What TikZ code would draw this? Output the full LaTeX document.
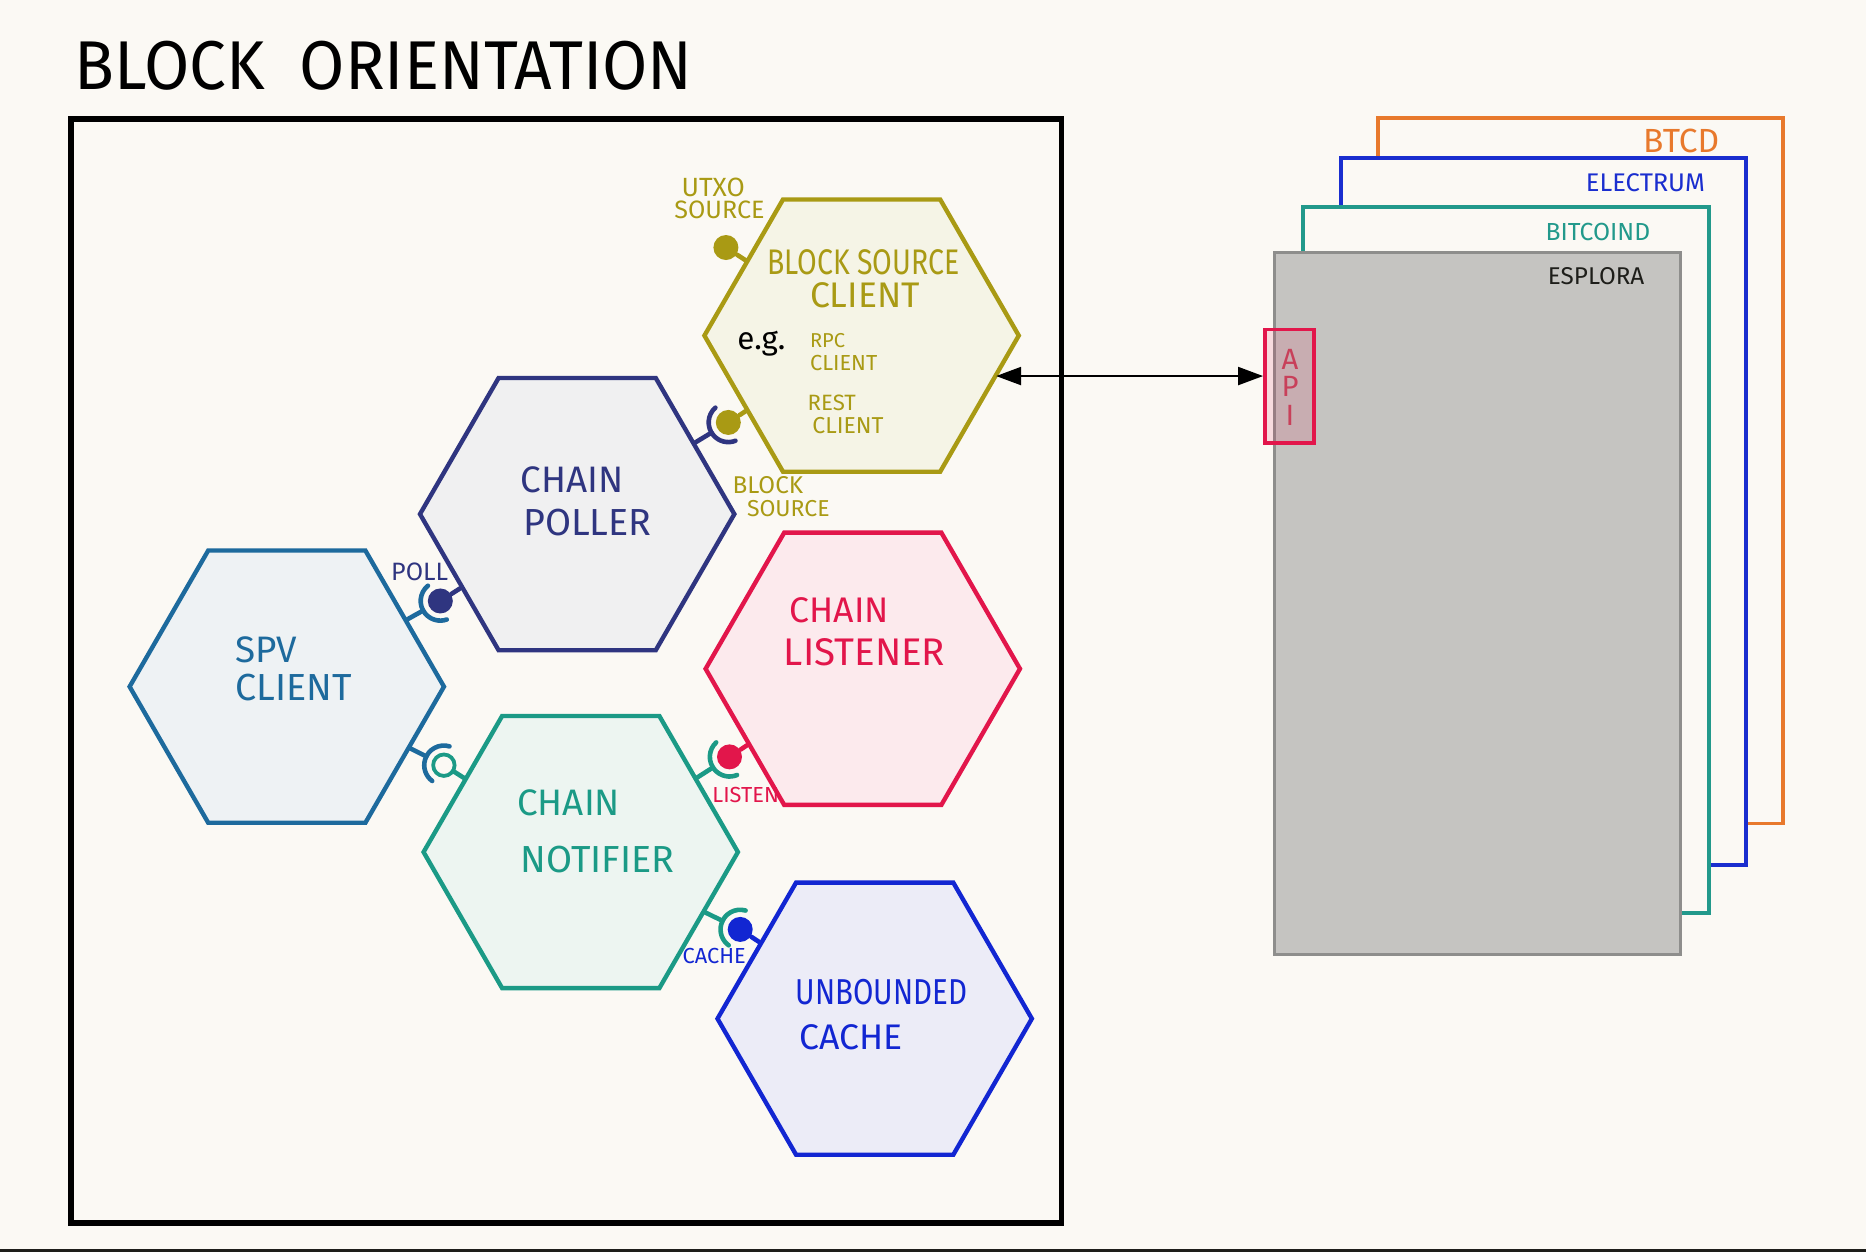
\documentclass[tikz,border=0pt]{standalone}
\usepackage{fontspec}
\setmainfont{Fira Sans}
\usetikzlibrary{shapes.geometric,arrows.meta,calc}
\definecolor{cBg}{HTML}{FBF9F4}
\definecolor{cOlive}{HTML}{A99A14}
\definecolor{fOlive}{HTML}{F5F4E6}
\definecolor{cNavy}{HTML}{2F3580}
\definecolor{fNavy}{HTML}{F0F0F1}
\definecolor{cSpv}{HTML}{1D6A9D}
\definecolor{fSpv}{HTML}{EEF2F4}
\definecolor{cRed}{HTML}{E2164B}
\definecolor{fRed}{HTML}{FCEAED}
\definecolor{cTeal}{HTML}{1B9A86}
\definecolor{fTeal}{HTML}{EDF5F1}
\definecolor{cBlue}{HTML}{1226D2}
\definecolor{fBlue}{HTML}{ECECF7}
\definecolor{cOrange}{HTML}{E8792C}
\definecolor{cElec}{HTML}{1A2ECF}
\definecolor{cBitc}{HTML}{22998B}
\definecolor{cGrayF}{HTML}{C5C4C1}
\definecolor{cGrayD}{HTML}{8E8E8C}
\definecolor{cApiT}{HTML}{C8405A}
\definecolor{cDark}{HTML}{1E1E1A}
\newcommand\sq[2]{\scalebox{#1}[1]{#2}}
\newcommand\fs[1]{\fontsize{#1}{#1}\selectfont}
\newcommand\socketat[3]{%
  \draw[stick,#3] let \p1=($(#2)-(#1)$), \n1={atan2(\y1,\x1)} in
    ($(#1)+(\n1-80:0.165cm)$) arc[start angle=\n1-80, end angle=\n1+80, radius=0.165cm];
  \draw[stick,#3] ($(#1)!0.165cm!(#2)$) -- (#2);
}
\tikzset{
  hexa/.style={regular polygon, regular polygon sides=6, minimum size=2.64cm, inner sep=0pt, line width=1.05pt},
  ball/.style={circle, minimum size=0.21cm, inner sep=0pt},
  stick/.style={line width=1.1pt, line cap=round},
  txt/.style={anchor=base west, inner sep=0pt},
  stackline/.style={line width=0.9pt},
  tip/.style={{Triangle[length=0.21cm,width=0.15cm]}-{Triangle[length=0.21cm,width=0.15cm]}},
}
\begin{document}
\begin{tikzpicture}[x=0.01cm,y=0.01cm]
\useasboundingbox (0,0) rectangle (1568,-1052);
\fill[cBg] (0,0) rectangle (1568,-1052);
\fill[cDark] (0,-1049.5) rectangle (1568,-1052);

% title
\node[txt, font=\fs{16.5}] (title) at (62,-75) {\sq{0.95}{BLOCK \ ORIENTATION}};

% frame
\draw[line width=1.4pt] (60,-100) rectangle (892,-1028);

% hexagons
\node[hexa, draw=cOlive, fill=fOlive] (bsc) at (724,-282) {};
\node[hexa, draw=cNavy, fill=fNavy] (cp) at (485,-432) {};
\node[hexa, draw=cSpv, fill=fSpv] (spv) at (241,-577) {};
\node[hexa, draw=cRed, fill=fRed] (cl) at (725,-562) {};
\node[hexa, draw=cTeal, fill=fTeal] (cn) at (488,-716) {};
\node[hexa, draw=cBlue, fill=fBlue] (uc) at (735,-856) {};

% hexagon texts
\node[txt, cOlive, font=\fs{8.5}] (t1) at (644,-231) {\sq{0.8}{BLOCK SOURCE}};
\node[txt, cOlive, font=\fs{8.5}] (t2) at (680,-258) {CLIENT};
\node[txt, black, font=\fs{7.5}] (t3) at (619,-294) {e.g.};
\node[txt, cOlive, font=\fs{4.8}] (t4) at (680,-292) {RPC};
\node[txt, cOlive, font=\fs{5.2}] (t5) at (680,-311) {CLIENT};
\node[txt, cOlive, font=\fs{5.3}] (t6) at (678,-345) {REST};
\node[txt, cOlive, font=\fs{5.5}] (t7) at (682,-364) {CLIENT};

\node[txt, cNavy, font=\fs{8.8}] (t8) at (437,-414) {CHAIN};
\node[txt, cNavy, font=\fs{9}] (t9) at (439,-450) {POLLER};

\node[txt, cSpv, font=\fs{8.8}] (t10) at (197,-557) {SPV};
\node[txt, cSpv, font=\fs{9}] (t11) at (197,-589) {CLIENT};

\node[txt, cRed, font=\fs{8.5}] (t12) at (663,-523) {CHAIN};
\node[txt, cRed, font=\fs{9.2}] (t13) at (658,-559) {LISTENER};

\node[txt, cTeal, font=\fs{8.8}] (t14) at (434,-685) {CHAIN};
\node[txt, cTeal, font=\fs{9}] (t15) at (437,-733) {NOTIFIER};

\node[txt, cBlue, font=\fs{8.6}] (t16) at (668,-844) {\sq{0.82}{UNBOUNDED}};
\node[txt, cBlue, font=\fs{8.5}] (t17) at (671,-882) {CACHE};

% interfaces: balls
\node[ball, fill=cOlive] (utxoball) at (610,-208) {};
\node[ball, fill=cOlive] (bsball) at (612,-355) {};
\node[ball, fill=cNavy] (pollball) at (370,-505) {};
\node[ball, draw=cTeal, fill=cBg, line width=0.9pt, minimum size=0.18cm] (notball) at (373,-643) {};
\node[ball, fill=cRed] (lisball) at (613,-636) {};
\node[ball, fill=cBlue] (cacheball) at (622,-781) {};

% provided sticks
\draw[stick,cOlive] (utxoball) -- (bsc);
\draw[stick,cOlive] (bsball) -- (bsc);
\draw[stick,cNavy] (pollball) -- (cp);
\draw[stick,cTeal] (notball) -- (cn);
\draw[stick,cRed] (lisball) -- (cl);
\draw[stick,cBlue] (cacheball) -- (uc);

% required sockets
\socketat{bsball}{cp}{cNavy}
\socketat{pollball}{spv}{cSpv}
\socketat{notball}{spv}{cSpv}
\socketat{lisball}{cn}{cTeal}
\socketat{cacheball}{cn}{cTeal}

% interface labels
\node[txt, cOlive, font=\fs{6.3}] (l1) at (572,-165) {UTXO};
\node[txt, cOlive, font=\fs{6}] (l2) at (566,-184) {SOURCE};
\node[txt, cOlive, font=\fs{5.8}] (l3) at (615,-415) {BLOCK};
\node[txt, cOlive, font=\fs{5.5}] (l4) at (627,-434) {SOURCE};
\node[txt, cNavy, font=\fs{6}] (l5) at (328,-488) {POLL};
\node[txt, cRed, font=\fs{5.2}] (l6) at (598,-674) {LISTEN};
\node[txt, cBlue, font=\fs{5.2}] (l7) at (573,-810) {CACHE};

% backends stack
\draw[stackline, cOrange] (1158,-133) -- (1158,-99) -- (1498,-99) -- (1498,-692) -- (1466,-692);
\draw[stackline, cElec] (1127,-173) -- (1127,-133) -- (1467,-133) -- (1467,-727) -- (1435,-727);
\draw[stackline, cBitc] (1095,-212) -- (1095,-174) -- (1436,-174) -- (1436,-767) -- (1412,-767);
\node[draw=cGrayD, fill=cGrayF, line width=0.7pt, minimum width=3.41cm, minimum height=5.9cm, anchor=north west, inner sep=0pt, outer sep=0pt] (esplora) at (1071,-212) {};

\node[txt, cOrange, font=\fs{8}] (b1) at (1380,-128) {BTCD};
\node[txt, cElec, font=\fs{6.1}] (b2) at (1332,-161) {ELECTRUM};
\node[txt, cBitc, font=\fs{5.9}] (b3) at (1298,-202) {BITCOIND};
\node[txt, cDark, font=\fs{5.8}] (b4) at (1300,-239) {ESPLORA};

% API
\node[draw=cRed, fill=cRed, fill opacity=0.13, line width=0.9pt, minimum width=0.41cm, minimum height=0.95cm, inner sep=0pt] (api) at (1083.5,-324.5) {};
\node[cApiT, font=\fs{7}, inner sep=0pt] (apiA) at (1084,-302) {A};
\node[cApiT, font=\fs{7}, inner sep=0pt] (apiP) at (1084,-325) {P};
\node[cApiT, font=\fs{7}, inner sep=0pt] (apiI) at (1084,-349) {I};

% arrow
\coordinate (bscport) at (837,-316);
\draw[tip, line width=0.6pt] (bscport) -- (bscport -| api.west);
\end{tikzpicture}
\end{document}
